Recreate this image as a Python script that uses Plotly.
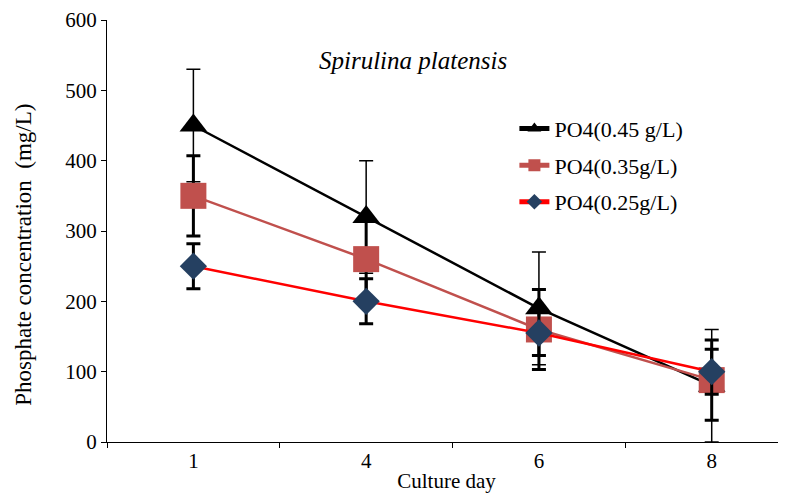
import plotly.graph_objects as go

days = ["1", "4", "6", "8"]
po4_045 = [450, 320, 190, 80]
po4_045_err = [80, 80, 80, 80]
po4_035 = [350, 260, 160, 88]
po4_035_err = [57, 57, 57, 57]
po4_025 = [250, 200, 155, 100]
po4_025_err = [32, 32, 32, 32]
names = ["PO4(0.45 g/L)", "PO4(0.35g/L)", "PO4(0.25g/L)"]

FONT = "Liberation Serif"

fig = go.Figure()
fig.add_trace(go.Scatter(
    x=days, y=po4_045, name=names[0], mode="lines+markers", legendgroup="a",
    line=dict(color="black", width=2.5),
    marker=dict(symbol="triangle-up", size=24, color="black"),
    error_y=dict(type="data", array=po4_045_err, visible=True, color="black", thickness=1.5, width=7),
))
fig.add_trace(go.Scatter(
    x=days, y=po4_035, name=names[1], mode="lines+markers", legendgroup="b",
    line=dict(color="#C0504D", width=2.5),
    marker=dict(symbol="square", size=26, color="#C0504D"),
    error_y=dict(type="data", array=po4_035_err, visible=True, color="black", thickness=3, width=7),
))
fig.add_trace(go.Scatter(
    x=days, y=po4_025, name=names[2], mode="lines+markers", legendgroup="c",
    line=dict(color="#FF0000", width=2.5),
    marker=dict(symbol="diamond", size=21, color="#254061"),
    error_y=dict(type="data", array=po4_025_err, visible=True, color="black", thickness=3, width=7),
))

fig.update_layout(
    width=778, height=485,
    margin=dict(l=99, r=0, t=12, b=51),
    paper_bgcolor="white", plot_bgcolor="white",
    font=dict(family=FONT, color="black", size=21),
    showlegend=True,
    legend=dict(x=0.60, y=0.792, xanchor="left", yanchor="top",
                font=dict(family=FONT, size=22, color="black"),
                itemsizing="constant", tracegroupgap=5, bgcolor="rgba(0,0,0,0)"),
    xaxis=dict(type="category", range=[-0.5, 3.43], tickson="boundaries",
               ticks="outside", ticklen=5, tickcolor="black", tickwidth=1.3,
               showline=True, linecolor="black", linewidth=1.3, showgrid=False,
               zeroline=False, tickfont=dict(family=FONT, size=21),
               title=dict(text="Culture day", font=dict(family=FONT, size=21), standoff=0)),
    yaxis=dict(range=[0, 600], dtick=100, ticks="outside", ticklen=5,
               tickcolor="black", tickwidth=1.3, showline=True, linecolor="black",
               linewidth=1.3, showgrid=False, zeroline=False, tickfont=dict(family=FONT, size=21)),
    annotations=[
        dict(text="<i>Spirulina platensis</i>", x=0.45, y=0.94, xref="paper", yref="paper",
             showarrow=False, font=dict(family=FONT, size=25, color="black")),
        dict(text="Phosphate concentration\u00a0 (mg/L)", x=-0.1230, y=0.445,
             xref="paper", yref="paper", textangle=-90, showarrow=False,
             xanchor="center", yanchor="middle",
             font=dict(family=FONT, size=23, color="black")),
    ],
)

fig.write_html("out.html")
